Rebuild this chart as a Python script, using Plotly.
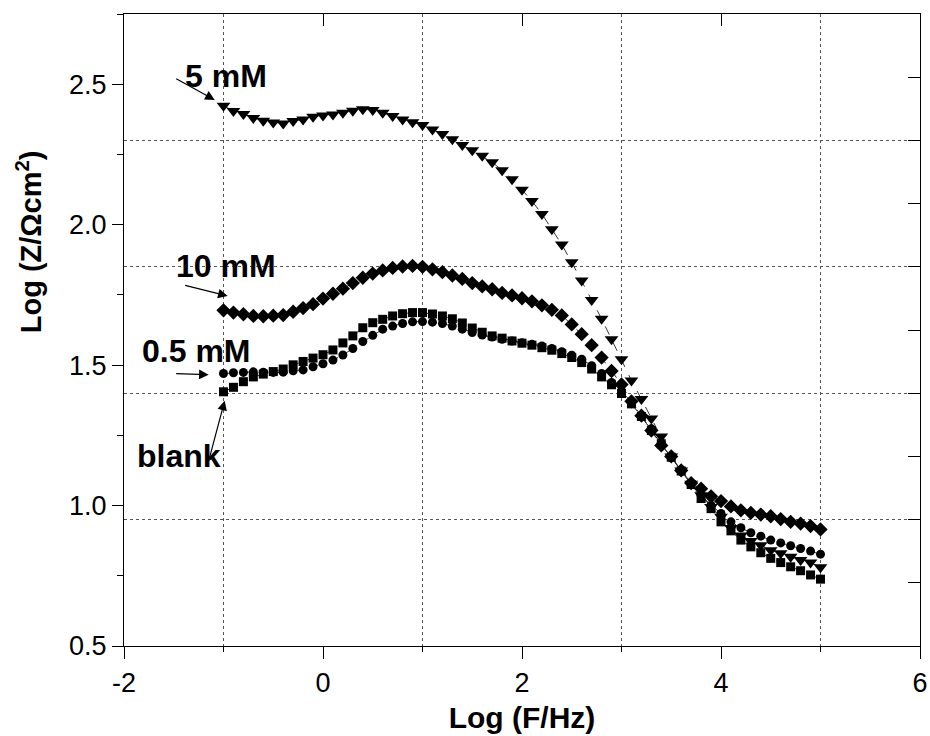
import plotly.graph_objects as go

log_f = [-1.0, -0.9, -0.8, -0.7, -0.6, -0.5, -0.4, -0.3, -0.2, -0.1,
         0.0, 0.1, 0.2, 0.3, 0.4, 0.5, 0.6, 0.7, 0.8, 0.9,
         1.0, 1.1, 1.2, 1.3, 1.4, 1.5, 1.6, 1.7, 1.8, 1.9,
         2.0, 2.1, 2.2, 2.3, 2.4, 2.5, 2.6, 2.7, 2.8, 2.9,
         3.0, 3.1, 3.2, 3.3, 3.4, 3.5, 3.6, 3.7, 3.8, 3.9,
         4.0, 4.1, 4.2, 4.3, 4.4, 4.5, 4.6, 4.7, 4.8, 4.9, 5.0]

z_5mM = [2.423, 2.405, 2.394, 2.380, 2.370, 2.364, 2.360, 2.369, 2.374, 2.384,
         2.389, 2.392, 2.398, 2.406, 2.411, 2.408, 2.398, 2.387, 2.374, 2.365,
         2.355, 2.339, 2.323, 2.304, 2.284, 2.265, 2.245, 2.222, 2.194, 2.162,
         2.124, 2.084, 2.038, 1.984, 1.929, 1.866, 1.801, 1.732, 1.665, 1.592,
         1.521, 1.445, 1.379, 1.310, 1.246, 1.175, 1.125, 1.078, 1.037, 0.995,
         0.960, 0.920, 0.893, 0.874, 0.859, 0.841, 0.830, 0.818, 0.806, 0.797, 0.780]

z_10mM = [1.695, 1.687, 1.681, 1.675, 1.674, 1.676, 1.678, 1.690, 1.703, 1.717,
          1.737, 1.754, 1.772, 1.792, 1.811, 1.826, 1.837, 1.846, 1.851, 1.853,
          1.850, 1.841, 1.831, 1.819, 1.807, 1.792, 1.780, 1.770, 1.757, 1.748,
          1.738, 1.727, 1.713, 1.697, 1.677, 1.645, 1.610, 1.571, 1.527, 1.479,
          1.431, 1.371, 1.320, 1.267, 1.214, 1.175, 1.125, 1.080, 1.060, 1.033,
          1.016, 0.997, 0.983, 0.974, 0.968, 0.962, 0.952, 0.942, 0.936, 0.927, 0.915]

z_05mM = [1.470, 1.473, 1.474, 1.476, 1.475, 1.474, 1.475, 1.480, 1.483, 1.494,
          1.505, 1.518, 1.536, 1.559, 1.584, 1.606, 1.628, 1.639, 1.648, 1.654,
          1.655, 1.653, 1.648, 1.639, 1.628, 1.616, 1.607, 1.600, 1.592, 1.586,
          1.580, 1.574, 1.568, 1.559, 1.548, 1.535, 1.521, 1.498, 1.470, 1.438,
          1.409, 1.367, 1.320, 1.273, 1.222, 1.172, 1.125, 1.078, 1.037, 1.001,
          0.972, 0.942, 0.921, 0.903, 0.891, 0.877, 0.867, 0.857, 0.847, 0.838, 0.827]

z_blank = [1.405, 1.421, 1.441, 1.458, 1.468, 1.477, 1.486, 1.501, 1.513, 1.525,
           1.537, 1.554, 1.579, 1.604, 1.633, 1.651, 1.663, 1.675, 1.683, 1.687,
           1.687, 1.682, 1.675, 1.665, 1.650, 1.632, 1.617, 1.604, 1.596, 1.586,
           1.578, 1.571, 1.562, 1.553, 1.541, 1.527, 1.509, 1.486, 1.458, 1.430,
           1.399, 1.362, 1.317, 1.267, 1.220, 1.172, 1.123, 1.075, 1.025, 0.989,
           0.942, 0.910, 0.877, 0.853, 0.832, 0.812, 0.797, 0.782, 0.768, 0.753, 0.738]

x_tickvals = [-2, 0, 2, 4, 6]
x_ticktext = ["-2", "0", "2", "4", "6"]
x_gridvals = [-1, 1, 3, 5]
y_gridvals = [0.95, 1.4, 1.85, 2.3]

series = [
    ("blank", z_blank, "square", 9),
    ("0.5 mM", z_05mM, "circle", 9),
    ("10 mM", z_10mM, "diamond", 11),
    ("5 mM", z_5mM, "triangle-down", 12),
]

FONT = "Liberation Sans"
GRID = "#555555"

fig = go.Figure()
for name, ys, sym, sz in series:
    fig.add_trace(go.Scatter(
        x=log_f, y=ys, name=name, mode="lines+markers",
        line=dict(color="black", width=0.8, dash="dash"),
        marker=dict(symbol=sym, size=sz, color="black", line=dict(width=0)),
        showlegend=False,
    ))

axis_common = dict(showline=True, linecolor="black", linewidth=1.3,
                   tickcolor="black", tickwidth=1.3, zeroline=False)

fig.update_layout(
    template="none",
    width=930, height=736,
    margin=dict(l=124, r=10, t=14, b=90),
    paper_bgcolor="white", plot_bgcolor="white",
    font=dict(family=FONT, size=27, color="black"),
    xaxis=dict(range=[-2, 6], tickmode="array", tickvals=x_tickvals, ticktext=x_ticktext,
               ticks="outside", ticklen=12, mirror=True, showgrid=False,
               minor=dict(tickmode="array", tickvals=x_gridvals, ticks="outside", ticklen=5,
                          tickcolor="black", showgrid=False),
               title=dict(text="<b>Log (F/Hz)</b>", font=dict(size=30), standoff=10),
               **axis_common),
    yaxis=dict(range=[0.5, 2.75], tick0=0.5, dtick=0.5, ticks="outside", ticklen=11,
               mirror=True, showgrid=False, tickformat=".1f",
               minor=dict(dtick=0.25, tick0=0.5, ticks="outside", ticklen=6,
                          tickcolor="black", showgrid=False),
               **axis_common),
    xaxis2=dict(range=[-2, 6], overlaying="x", side="top", anchor="y",
                tickmode="array", tickvals=x_tickvals, ticks="inside", ticklen=12,
                showticklabels=False, showgrid=False, showline=False, zeroline=False,
                tickcolor="black", tickwidth=1.3),
    xaxis3=dict(range=[-2, 6], overlaying="x", side="bottom", anchor="y",
                tickmode="array", tickvals=x_gridvals, ticks="", showticklabels=False,
                showgrid=True, gridcolor=GRID, griddash="dot", gridwidth=1,
                showline=False, zeroline=False),
    yaxis2=dict(range=[0.5, 2.75], overlaying="y", side="right", anchor="x",
                tickmode="array", tickvals=y_gridvals, ticks="inside", ticklen=12,
                showticklabels=False,
                showgrid=True, gridcolor=GRID, griddash="dot", gridwidth=1,
                showline=False, zeroline=False, tickcolor="black", tickwidth=1.3,
                minor=dict(dtick=0.225, tick0=0.5, ticks="inside", ticklen=12,
                           tickcolor="black", tickwidth=1.3, showgrid=False)),
)

# empty traces so the secondary axes render
fig.add_trace(go.Scatter(x=[], y=[], xaxis="x2", yaxis="y2", showlegend=False))
fig.add_trace(go.Scatter(x=[], y=[], xaxis="x3", yaxis="y", showlegend=False))

lab_font = dict(family=FONT, size=32, color="black", weight="bold")
labels = [
    ("5 mM", -0.978, 2.529),
    ("10 mM", -0.978, 1.852),
    ("0.5 mM", -1.279, 1.551),
    ("blank", -1.45, 1.178),
]
for txt, lx, ly in labels:
    fig.add_annotation(x=lx, y=ly, xref="x", yref="y", text=txt, showarrow=False,
                       font=lab_font)

arrows = [
    (-1.088, 2.444, -40, -22),
    (-0.958, 1.746, -44, -11),
    (-1.149, 1.466, -34, -1),
    (-0.988, 1.373, -16, 60),
]
for tx, ty, axp, ayp in arrows:
    fig.add_annotation(x=tx, y=ty, xref="x", yref="y", text="", showarrow=True,
                       ax=axp, ay=ayp, arrowhead=2, arrowsize=1.6, arrowwidth=1.2,
                       arrowcolor="black", standoff=0)

fig.add_annotation(x=(29 - 124) / 796.0, y=0.5 + (646.3 - 241) / 282,
                   xref="x domain", yref="y", xanchor="center", yanchor="middle",
                   text="<b>Log (Z/Ωcm<sup>2</sup>)</b>", textangle=-90, showarrow=False,
                   font=dict(family=FONT, size=29, color="black"))

fig.write_html("out.html")
